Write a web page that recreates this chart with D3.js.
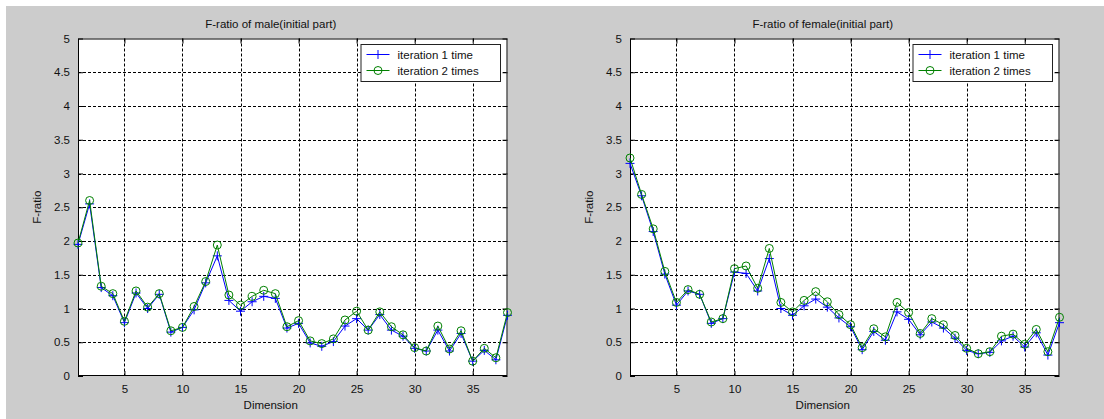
<!DOCTYPE html>
<html>
<head>
<meta charset="utf-8">
<script src="https://cdn.jsdelivr.net/npm/d3@7"></script>
<style>
  html, body { margin: 0; padding: 0; background: #ffffff; }
  svg { display: block; }
  text { font-family: "Liberation Sans", Arial, sans-serif; fill: #111; }
</style>
</head>
<body>
<svg id="chart" width="1104" height="419"></svg>
<script>
// ---- data ----
const dimensions = [1,2,3,4,5,6,7,8,9,10,11,12,13,14,15,16,17,18,19,20,21,22,23,24,25,26,27,28,29,30,31,32,33,34,35,36,37,38];
const xTicks = [5, 10, 15, 20, 25, 30, 35];
const yTicks = [0, 0.5, 1, 1.5, 2, 2.5, 3, 3.5, 4, 4.5, 5];
const seriesNames = ["iteration 1 time", "iteration 2 times"];
const panelTitles = ["F-ratio of male(initial part)", "F-ratio of female(initial part)"];

const maleIter1 = [1.95,2.55,1.31,1.19,0.79,1.23,1.00,1.21,0.65,0.72,0.98,1.38,1.78,1.12,0.96,1.10,1.18,1.15,0.71,0.78,0.49,0.44,0.51,0.74,0.85,0.68,0.91,0.68,0.59,0.41,0.37,0.68,0.37,0.63,0.22,0.38,0.24,0.90];
const maleIter2 = [1.97,2.60,1.33,1.22,0.81,1.26,1.02,1.22,0.67,0.72,1.03,1.40,1.94,1.20,1.05,1.18,1.27,1.22,0.73,0.82,0.52,0.48,0.55,0.83,0.96,0.68,0.95,0.73,0.61,0.42,0.37,0.74,0.40,0.67,0.22,0.41,0.27,0.94];
const femaleIter1 = [3.15,2.67,2.14,1.51,1.05,1.26,1.21,0.78,0.85,1.54,1.52,1.26,1.74,1.00,0.90,1.04,1.14,1.02,0.86,0.73,0.39,0.66,0.53,0.95,0.84,0.61,0.80,0.71,0.56,0.38,0.33,0.35,0.52,0.59,0.43,0.64,0.31,0.79];
const femaleIter2 = [3.23,2.69,2.18,1.55,1.09,1.28,1.21,0.80,0.85,1.59,1.63,1.30,1.89,1.09,0.95,1.12,1.25,1.10,0.91,0.76,0.42,0.70,0.58,1.09,0.94,0.63,0.85,0.76,0.60,0.41,0.33,0.36,0.59,0.62,0.47,0.69,0.36,0.87];

const panels = [
  { title: panelTitles[0], s1: maleIter1, s2: maleIter2, left: 78, right: 507.5 },
  { title: panelTitles[1], s1: femaleIter1, s2: femaleIter2, left: 630, right: 1059.5 }
];

const svg = d3.select("#chart");
svg.append("rect").attr("x", 6).attr("y", 6).attr("width", 1098).attr("height", 413).attr("fill", "#cccccc");

const plotTop = 38.5, plotBottom = 376;
const BLUE = "#0000ff", GREEN = "#008000";

panels.forEach(p => {
  const x = d3.scaleLinear().domain([1, 38]).range([p.left, p.right]);
  const y = d3.scaleLinear().domain([0, 5]).range([plotBottom, plotTop]);
  const g = svg.append("g");

  g.append("rect").attr("x", p.left).attr("y", plotTop)
    .attr("width", p.right - p.left).attr("height", plotBottom - plotTop).attr("fill", "#ffffff");

  // grid
  g.selectAll(".gx").data(xTicks).join("line")
    .attr("x1", d => Math.round(x(d)) + 0.5).attr("x2", d => Math.round(x(d)) + 0.5)
    .attr("y1", plotTop).attr("y2", plotBottom)
    .attr("stroke", "#000").attr("stroke-width", 1).attr("stroke-dasharray", "3,2");
  g.selectAll(".gy").data(yTicks.filter(d => d > 0 && d < 5)).join("line")
    .attr("y1", d => Math.round(y(d)) + 0.5).attr("y2", d => Math.round(y(d)) + 0.5)
    .attr("x1", p.left).attr("x2", p.right)
    .attr("stroke", "#000").attr("stroke-width", 1).attr("stroke-dasharray", "3,2");

  // axes (ticks inward)
  const fmt = d => String(d);
  const ax = g.append("g").attr("transform", `translate(0,${plotBottom})`)
    .call(d3.axisBottom(x).tickValues(xTicks).tickSizeInner(-5).tickSizeOuter(0).tickPadding(9).tickFormat(fmt));
  const axTop = g.append("g").attr("transform", `translate(0,${plotTop})`)
    .call(d3.axisTop(x).tickValues(xTicks).tickSizeInner(-5).tickSizeOuter(0).tickFormat(""));
  const ay = g.append("g").attr("transform", `translate(${p.left},0)`)
    .call(d3.axisLeft(y).tickValues(yTicks).tickSizeInner(-5).tickSizeOuter(0).tickPadding(8).tickFormat(fmt));
  const ayR = g.append("g").attr("transform", `translate(${p.right},0)`)
    .call(d3.axisRight(y).tickValues(yTicks).tickSizeInner(-5).tickSizeOuter(0).tickFormat(""));
  [ax, axTop, ay, ayR].forEach(a => {
    a.select(".domain").remove();
    a.selectAll("line").attr("stroke", "#000");
    a.selectAll("text").attr("font-size", 11.5).attr("fill", "#111")
      .attr("font-family", "'Liberation Sans', Arial, sans-serif");
  });

  // box
  g.append("rect").attr("x", p.left + 0.5).attr("y", plotTop + 0.5)
    .attr("width", p.right - p.left - 1).attr("height", plotBottom - plotTop - 1)
    .attr("fill", "none").attr("stroke", "#000").attr("stroke-width", 1);

  // series
  const line = d3.line().x((d, i) => x(dimensions[i])).y(d => y(d));
  g.append("path").datum(p.s1).attr("d", line).attr("fill", "none").attr("stroke", BLUE).attr("stroke-width", 1);
  g.selectAll(".plus").data(p.s1).join("path")
    .attr("d", (d, i) => { const cx = x(dimensions[i]), cy = y(d), r = 4.5;
      return `M${cx - r},${cy}H${cx + r}M${cx},${cy - r}V${cy + r}`; })
    .attr("stroke", BLUE).attr("stroke-width", 1).attr("fill", "none");
  g.append("path").datum(p.s2).attr("d", line).attr("fill", "none").attr("stroke", GREEN).attr("stroke-width", 1);
  g.selectAll(".circ").data(p.s2).join("circle")
    .attr("cx", (d, i) => x(dimensions[i])).attr("cy", d => y(d)).attr("r", 4)
    .attr("fill", "none").attr("stroke", GREEN).attr("stroke-width", 1);

  // labels
  const cx = (p.left + p.right) / 2 - 22;
  g.append("text").attr("x", cx).attr("y", 27.5).attr("text-anchor", "middle")
    .attr("font-size", 11.5).text(p.title);
  g.append("text").attr("x", cx).attr("y", 408.5).attr("text-anchor", "middle")
    .attr("font-size", 11.5).text("Dimension");
  g.append("text").attr("transform", `translate(${p.left - 37},${(plotTop + plotBottom) / 2}) rotate(-90)`)
    .attr("text-anchor", "middle").attr("font-size", 11.5).text("F-ratio");

  // legend
  const lx = p.right - 147, ly = 44, lw = 139.5, lh = 37;
  const lg = g.append("g");
  lg.append("rect").attr("x", lx + 0.5).attr("y", ly + 0.5).attr("width", lw).attr("height", lh)
    .attr("fill", "#ffffff").attr("stroke", "#222").attr("stroke-width", 1);
  const rows = [{ name: seriesNames[0], color: BLUE, mk: "plus", yy: ly + 10.5 },
                { name: seriesNames[1], color: GREEN, mk: "circle", yy: ly + 26.5 }];
  rows.forEach(r => {
    lg.append("line").attr("x1", lx + 6).attr("x2", lx + 29).attr("y1", r.yy).attr("y2", r.yy)
      .attr("stroke", r.color).attr("stroke-width", 1);
    const mx = lx + 17.5;
    if (r.mk === "plus") {
      lg.append("path").attr("d", `M${mx - 4.5},${r.yy}H${mx + 4.5}M${mx},${r.yy - 4.5}V${r.yy + 4.5}`)
        .attr("stroke", r.color).attr("stroke-width", 1);
    } else {
      lg.append("circle").attr("cx", mx).attr("cy", r.yy).attr("r", 4)
        .attr("fill", "none").attr("stroke", r.color).attr("stroke-width", 1);
    }
    lg.append("text").attr("x", lx + 37).attr("y", r.yy + 4).attr("font-size", 11.5).text(r.name);
  });
});
</script>
</body>
</html>
